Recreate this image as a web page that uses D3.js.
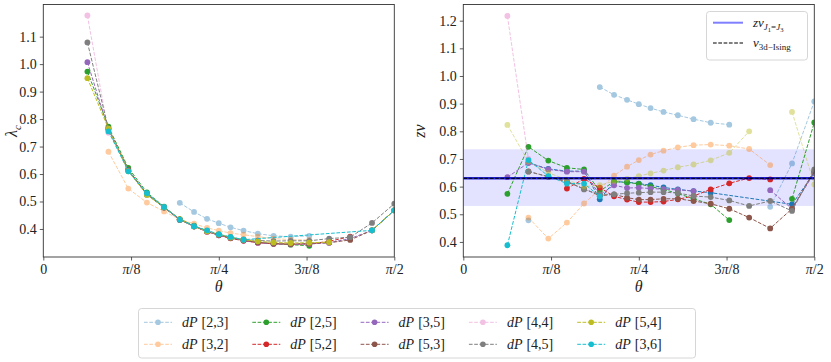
<!DOCTYPE html>
<html><head><meta charset="utf-8">
<script src="https://cdnjs.cloudflare.com/ajax/libs/d3/7.8.5/d3.min.js"></script>
<style>
body{margin:0;background:#fff}
svg{display:block}
text{font-family:"Liberation Serif","DejaVu Serif",serif;fill:#222}
</style></head><body>
<svg id="c" width="831" height="362"></svg>
<script>
// ---------- data ----------
const THETA = [0.1974,0.2915,0.3805,0.4636,0.5404,0.6107,0.6747,0.7328,0.7854,0.8380,0.8961,0.9601,1.0304,1.1071,1.1903,1.2793,1.3734,1.4711,1.5708];
const X_TICK_VALUES = [0, 0.3927, 0.7854, 1.1781, 1.5708];
const X_TICK_LABELS = ["0", "π/8", "π/4", "3π/8", "π/2"];
const LEFT_Y_TICKS = [0.4,0.5,0.6,0.7,0.8,0.9,1.0,1.1];
const RIGHT_Y_TICKS = [0.4,0.5,0.6,0.7,0.8,0.9,1.0,1.1,1.2];
const SERIES = ["[2,3]","[3,2]","[2,5]","[5,2]","[3,5]","[5,3]","[4,4]","[4,5]","[5,4]","[3,6]"];
// null = no point (line joins across), NaN = no point and line broken
const LEFT_VALUES = [
 [null,null,null,null,null,0.495,0.462,0.437,0.421,0.406,0.394,0.383,0.375,0.372,0.375,null,null,null,null],
 [null,0.681,0.547,0.496,0.464,0.435,0.419,0.404,0.394,0.385,0.379,0.372,0.365,0.361,0.360,null,null,null,null],
 [0.973,0.772,0.622,0.533,0.481,0.436,0.412,0.393,0.379,0.369,0.360,0.352,0.346,0.343,0.339,NaN,NaN,0.395,0.468],
 [null,null,null,0.528,0.479,0.434,0.410,0.390,0.377,0.366,0.357,0.350,0.346,0.345,0.345,0.355,0.372,null,null],
 [1.007,0.762,0.615,0.527,0.478,0.434,0.410,0.391,0.377,0.367,0.358,0.350,0.346,0.344,0.345,0.350,0.365,0.395,0.468],
 [null,0.765,0.615,0.527,0.478,0.434,0.409,0.391,0.378,0.367,0.359,0.351,0.347,0.345,0.347,0.350,0.360,0.395,0.468],
 [1.177,0.750,null,null,null,null,null,null,null,null,null,null,null,null,null,null,null,null,null],
 [1.079,0.765,0.612,0.525,0.478,0.434,0.410,0.392,0.380,0.370,0.362,0.358,0.356,0.357,0.357,0.365,0.370,0.422,0.492],
 [0.949,0.765,0.610,0.524,0.479,0.435,0.410,0.392,0.380,0.369,0.361,0.355,0.351,0.349,0.350,0.352,NaN,0.395,0.468],
 [null,0.755,0.610,0.530,0.480,0.434,0.410,0.395,0.381,0.371,0.361,null,null,null,null,null,null,0.395,0.468]
];
const RIGHT_VALUES = [
 [null,0.478,NaN,NaN,NaN,0.960,0.932,0.914,0.898,0.884,0.870,0.858,0.844,0.831,0.824,NaN,0.527,0.684,0.908],
 [null,0.488,0.412,0.470,0.539,0.590,0.640,0.672,0.696,0.716,0.730,0.742,0.750,0.752,0.748,0.736,0.678,null,null],
 [0.574,0.744,0.694,0.668,0.662,0.584,0.618,0.615,0.610,0.600,0.590,0.575,0.556,0.536,0.479,NaN,NaN,0.556,0.832],
 [null,null,null,0.593,0.628,0.596,0.565,0.553,0.544,0.544,0.546,0.554,0.566,0.590,0.612,0.631,0.626,null,null],
 [0.634,0.686,0.662,0.654,0.654,0.570,0.605,0.595,0.596,0.593,0.591,0.588,0.584,NaN,NaN,NaN,0.587,0.520,0.650],
 [null,0.655,0.636,0.617,0.592,0.567,0.572,0.560,0.553,0.553,0.556,0.556,0.548,0.538,0.520,0.488,0.449,0.520,0.656],
 [1.217,0.700,null,null,null,null,null,null,null,null,null,null,null,null,null,null,null,null,null],
 [null,0.654,0.636,0.620,0.590,0.572,0.572,0.576,0.578,0.580,0.580,0.577,0.566,0.562,0.550,0.530,0.548,0.512,0.662],
 [0.823,0.690,0.650,0.625,0.600,0.605,0.620,0.628,0.638,0.648,0.658,0.670,0.680,0.695,0.722,0.800,NaN,0.870,0.608],
 [0.388,0.696,0.638,0.611,0.611,0.565,null,null,null,null,null,null,null,null,null,null,null,null,null]
];
// unlabelled extra series in the right panel
const RIGHT_EXTRA = [null,0.686,0.664,0.656,0.656,0.554,0.618,0.616,0.611,0.605,0.597,0.590,0.584,0.578,null,null,null,0.536,0.650];
const ZNU_J1J3 = 0.63, ZNU_BAND = [0.53, 0.735], NU_ISING = 0.63;

// ---------- styles ----------
const COLORS = ["#1f77b4","#ff7f0e","#2ca02c","#d62728","#9467bd","#8c564b","#e377c2","#7f7f7f","#bcbd22","#17becf"];
const ALPHA_L = [0.4,0.4,1,1,1,1,0.45,1,1,1];
const ALPHA_R = [0.4,0.4,1,1,1,1,0.45,1,0.45,1];
const DASH = "3.7,1.6";

const svg = d3.select("#c");

function toPts(vals){ return vals.map((v,i)=>({t:THETA[i], v})).filter(d=>d.v!==null); }

function drawPanel(o){
  const x = d3.scaleLinear().domain([0, Math.PI/2]).range([o.x0, o.x1]);
  const y = d3.scaleLinear().domain(o.ydom).range([257, 4.5]);
  const g = svg.append("g");
  const clipId = "clip"+o.id;
  svg.append("clipPath").attr("id",clipId).append("rect")
    .attr("x",o.x0).attr("y",4.5).attr("width",o.x1-o.x0).attr("height",257-4.5);
  const plot = g.append("g").attr("clip-path",`url(#${clipId})`);
  if (o.before) o.before(plot, x, y);
  const line = d3.line().defined(d=>!isNaN(d.v)).x(d=>x(d.t)).y(d=>y(d.v));
  o.series.forEach(s=>{
    const pts = toPts(s.vals);
    const sg = plot.append("g").attr("opacity", s.alpha);
    sg.append("path").datum(pts).attr("d",line).attr("fill","none")
      .attr("stroke",s.color).attr("stroke-width",1).attr("stroke-dasharray",DASH);
    sg.selectAll("circle").data(pts.filter(d=>!isNaN(d.v))).join("circle")
      .attr("cx",d=>x(d.t)).attr("cy",d=>y(d.v)).attr("r",2.9).attr("fill",s.color);
  });
  if (o.after) o.after(plot, x, y);
  // axes
  const ax = g.append("g").attr("transform","translate(0,257)")
    .call(d3.axisBottom(x).tickValues(X_TICK_VALUES).tickSize(3.5).tickSizeOuter(0).tickPadding(4));
  ax.selectAll("text").each(function(d,i){
    const t = d3.select(this); t.text(null).attr("font-size",14).attr("fill","#222");
    const lab = X_TICK_LABELS[i];
    const k = lab.indexOf("π");
    if (k<0){ t.append("tspan").text(lab); return; }
    if (k>0) t.append("tspan").text(lab.slice(0,k));
    t.append("tspan").attr("font-style","italic").text("π");
    t.append("tspan").text(lab.slice(k+1));
  });
  const ay = g.append("g").attr("transform",`translate(${o.x0},0)`)
    .call(d3.axisLeft(y).tickValues(o.yticks).tickFormat(d3.format(".1f")).tickSize(3.5).tickSizeOuter(0).tickPadding(3));
  ay.selectAll("text").attr("font-size",14).attr("fill","#222");
  [ax, ay].forEach(a=>{ a.select(".domain").remove(); a.selectAll("line").attr("stroke","#333").attr("stroke-width",0.8); a.attr("font-family",null); });
  g.append("rect").attr("x",o.x0).attr("y",4.5).attr("width",o.x1-o.x0).attr("height",257-4.5)
    .attr("fill","none").attr("stroke","#333").attr("stroke-width",0.9);
  // x label
  g.append("text").attr("x",(o.x0+o.x1)/2).attr("y",292).attr("text-anchor","middle")
    .attr("font-size",16).attr("font-style","italic").text("θ");
  return {x,y,g};
}

// left panel
drawPanel({
  id:"L", x0:43.3, x1:394.3, ydom:[0.298,1.217], yticks:LEFT_Y_TICKS,
  series: SERIES.map((n,i)=>({vals:LEFT_VALUES[i], color:COLORS[i], alpha:ALPHA_L[i]}))
});
// left y label  λ_c
{
  const t = svg.append("text").attr("transform","translate(17,131) rotate(-90)").attr("text-anchor","middle").attr("font-size",16);
  t.append("tspan").attr("font-style","italic").text("λ");
  t.append("tspan").attr("font-style","italic").attr("font-size",11).attr("dy",4).text("c");
}

// right panel
const rightSeries = [{vals:RIGHT_EXTRA, color:COLORS[0], alpha:1}]
  .concat(SERIES.map((n,i)=>({vals:RIGHT_VALUES[i], color:COLORS[i], alpha:ALPHA_R[i]})));
drawPanel({
  id:"R", x0:463.3, x1:814.3, ydom:[0.3455,1.2585], yticks:RIGHT_Y_TICKS,
  series: rightSeries,
  before:(p,x,y)=>{
    p.append("rect").attr("x",x(0)).attr("width",x(Math.PI/2)-x(0))
      .attr("y",y(ZNU_BAND[1])).attr("height",y(ZNU_BAND[0])-y(ZNU_BAND[1]))
      .attr("fill","#0000ff").attr("fill-opacity",0.11);
  },
  after:(p,x,y)=>{
    p.append("line").attr("x1",x(0)).attr("x2",x(Math.PI/2)).attr("y1",y(ZNU_J1J3)).attr("y2",y(ZNU_J1J3))
      .attr("stroke","#0000cc").attr("stroke-opacity",0.85).attr("stroke-width",2.4);
    p.append("line").attr("x1",x(0)).attr("x2",x(Math.PI/2)).attr("y1",y(NU_ISING)).attr("y2",y(NU_ISING))
      .attr("stroke","#000").attr("stroke-width",1).attr("stroke-dasharray",DASH);
  }
});
{
  const t = svg.append("text").attr("transform","translate(425,131) rotate(-90)").attr("text-anchor","middle").attr("font-size",16).attr("font-style","italic");
  t.text("zν");
}
// right legend
{
  const lg = svg.append("g");
  lg.append("rect").attr("x",706.5).attr("y",11.5).attr("width",101).attr("height",48.5).attr("rx",3)
    .attr("fill","#fff").attr("fill-opacity",0.8).attr("stroke","#ccc").attr("stroke-width",0.8);
  lg.append("line").attr("x1",713).attr("x2",743).attr("y1",22.7).attr("y2",22.7)
    .attr("stroke","#0000ff").attr("stroke-opacity",0.5).attr("stroke-width",2);
  lg.append("line").attr("x1",713).attr("x2",743).attr("y1",43).attr("y2",43)
    .attr("stroke","#000").attr("stroke-width",1.2).attr("stroke-dasharray",DASH);
  const t1 = lg.append("text").attr("x",753).attr("y",27).attr("font-size",13);
  t1.append("tspan").attr("font-style","italic").text("zν");
  t1.append("tspan").attr("font-style","italic").attr("font-size",9).attr("dy",3).text("J");
  t1.append("tspan").attr("font-size",6.5).attr("dy",1.5).text("1");
  t1.append("tspan").attr("font-size",9).attr("dy",-1.5).text("=");
  t1.append("tspan").attr("font-style","italic").attr("font-size",9).text("J");
  t1.append("tspan").attr("font-size",6.5).attr("dy",1.5).text("3");
  const t2 = lg.append("text").attr("x",753).attr("y",47).attr("font-size",13);
  t2.append("tspan").attr("font-style","italic").text("ν");
  t2.append("tspan").attr("font-size",9).attr("dy",3).text("3d−Ising");
}

// bottom legend
{
  const lg = svg.append("g");
  lg.append("rect").attr("x",138.5).attr("y",308.5).attr("width",557).attr("height",49.5).attr("rx",3)
    .attr("fill","#fff").attr("stroke","#ccc").attr("stroke-width",0.8);
  SERIES.forEach((n,i)=>{
    const col = Math.floor(i/2), row = i%2;
    const lx = 144 + col*108.3, ly = 322.3 + row*22;
    const e = lg.append("g").attr("opacity", ALPHA_L[i]);
    e.append("line").attr("x1",lx).attr("x2",lx+28).attr("y1",ly).attr("y2",ly)
      .attr("stroke",COLORS[i]).attr("stroke-width",1).attr("stroke-dasharray",DASH);
    e.append("circle").attr("cx",lx+14).attr("cy",ly).attr("r",2.8).attr("fill",COLORS[i]);
    const t = lg.append("text").attr("x",lx+38).attr("y",ly+5).attr("font-size",14);
    t.append("tspan").attr("font-style","italic").text("dP");
    t.append("tspan").attr("dx",4).text(n);
  });
}
</script>
</body></html>
